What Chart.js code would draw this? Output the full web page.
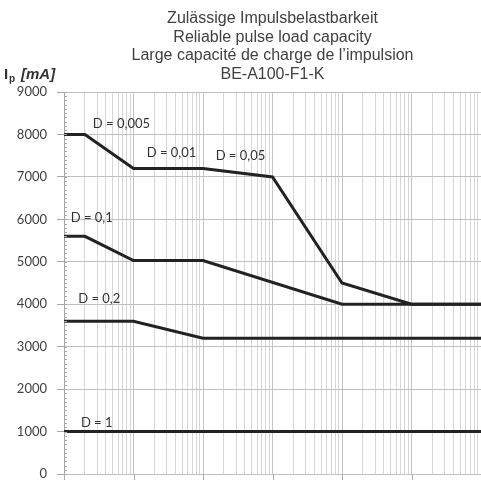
<!DOCTYPE html>
<html>
<head>
<meta charset="utf-8">
<script src="https://cdn.jsdelivr.net/npm/chart.js@4/dist/chart.umd.min.js"></script>
<style>
  html, body { margin: 0; padding: 0; background: #fff; }
</style>
</head>
<body>
<canvas id="chart" width="481" height="481"></canvas>
<script>
// pulse duration axis has no labels in the original, so x runs over 6 decades
const xPoints = [1, 2, 10, 100, 1000, 10000, 100000, 1000000];
const d0005 = [8000, 8000, 7200, 7200, 7000, 4500, 4000, 4000];
const d01 = [5600, 5600, 5030, 5030, null, 4000, 4000, 4000];
const d02 = [3600, 3600, 3600, 3200, 3200, 3200, 3200, 3200];
const d1 = [1000, 1000, 1000, 1000, 1000, 1000, 1000, 1000];
const yTicks = [0, 1000, 2000, 3000, 4000, 5000, 6000, 7000, 8000, 9000];
const titleLines = [
    "Zulässige Impulsbelastbarkeit",
    "Reliable pulse load capacity",
    "Large capacité de charge de l’impulsion",
    "BE-A100-F1-K",
];
const curveLabels = ["D = 0,005", "D = 0,01", "D = 0,05", "D = 0,1", "D = 0,2", "D = 1"];
const labelX = [2.6, 15.5, 152, 1.25, 1.6, 1.75];
const labelY = [8250, 7560, 7490, 6040, 4120, 1210];

const toPoints = (vals) => xPoints.map((x, i) => ({ x: x, y: vals[i] })).filter((p) => p.y !== null);

const lineStyle = {
    borderColor: "#222",
    borderWidth: 3,
    pointRadius: 0,
    tension: 0,
    fill: false,
};

const decorPlugin = {
    id: "decor",
    afterDraw: (chart) => {
        const ctx = chart.ctx;
        const area = chart.chartArea;
        const xs = chart.scales.x;
        const ys = chart.scales.y;
        ctx.save();

        // title
        ctx.fillStyle = "#404040";
        ctx.font = "16px 'Liberation Sans', Arial, sans-serif";
        ctx.textAlign = "center";
        ctx.textBaseline = "middle";
        const cx = (area.left + area.right) / 2;
        titleLines.forEach((line, i) => ctx.fillText(line, cx, 19 + i * 18.5));

        // y axis name  I_p [mA]
        ctx.fillStyle = "#333";
        ctx.textAlign = "left";
        ctx.textBaseline = "alphabetic";
        ctx.font = "bold 15px 'Liberation Sans', Arial, sans-serif";
        ctx.fillText("I", 4, 79);
        ctx.font = "bold 10px 'Liberation Sans', Arial, sans-serif";
        ctx.fillText("p", 9, 82);
        ctx.font = "bold italic 15px 'Liberation Sans', Arial, sans-serif";
        ctx.fillText("[mA]", 21, 79);

        // dense minor ticks on the y axis
        ctx.strokeStyle = "#aaa";
        ctx.lineWidth = 1;
        ctx.beginPath();
        for (let v = 0; v <= 9000; v += 100) {
            const py = Math.round(ys.getPixelForValue(v)) + 0.5;
            ctx.moveTo(area.left, py);
            ctx.lineTo(area.left + 3, py);
        }
        // decade tick marks below the x axis
        logTicks.filter(isDecade).forEach((v) => {
            const px = Math.round(xs.getPixelForValue(v)) + 0.5;
            ctx.moveTo(px, area.bottom);
            ctx.lineTo(px, area.bottom + 6);
        });
        ctx.stroke();

        // curve labels
        ctx.fillStyle = "#333";
        ctx.font = "13px Lato, 'Open Sans', sans-serif";
        ctx.textBaseline = "middle";
        curveLabels.forEach((t, i) => {
            ctx.fillText(t, xs.getPixelForValue(labelX[i]), ys.getPixelForValue(labelY[i]));
        });
        ctx.restore();
    },
};

const logTicks = [];
for (let k = 0; k < 6; k++) {
    for (let m = 1; m <= 9; m++) logTicks.push(m * Math.pow(10, k));
}
logTicks.push(1000000);

const isDecade = (v) => Math.abs(Math.log10(v) - Math.round(Math.log10(v))) < 1e-9;

new Chart(document.getElementById("chart"), {
    type: "line",
    data: {
        datasets: [
            { data: toPoints(d0005), ...lineStyle },
            { data: toPoints(d01), ...lineStyle },
            { data: toPoints(d02), ...lineStyle },
            { data: toPoints(d1), ...lineStyle },
        ],
    },
    options: {
        responsive: false,
        animation: false,
        devicePixelRatio: 1,
        layout: { padding: { top: 92, left: 0, right: 0, bottom: 7 } },
        plugins: {
            legend: { display: false },
            tooltip: { enabled: false },
        },
        scales: {
            x: {
                type: "logarithmic",
                min: 1,
                max: 1000000,
                afterBuildTicks: (scale) => {
                    scale.ticks = logTicks.map((v) => ({ value: v }));
                },
                afterFit: (scale) => {
                    scale.height = 0;
                    scale.paddingLeft = 0;
                    scale.paddingRight = 0;
                },
                ticks: { display: false },
                border: { display: false },
                grid: {
                    color: (c) => (c.tick && isDecade(c.tick.value) ? "#c4c4c4" : "#d6d6d6"),
                    drawTicks: false,
                    lineWidth: 1,
                },
            },
            y: {
                min: 0,
                max: 9000,
                afterBuildTicks: (scale) => {
                    scale.ticks = yTicks.map((v) => ({ value: v }));
                },
                afterFit: (scale) => {
                    scale.width = 64;
                    scale.paddingTop = 0;
                    scale.paddingBottom = 0;
                },
                ticks: {
                    color: "#404040",
                    font: { family: "Lato, 'Open Sans', sans-serif", size: 13, lineHeight: 1 },
                    padding: 10,
                    callback: (v) => String(v),
                },
                border: { color: "#a6a6a6" },
                grid: {
                    color: "#bfbfbf",
                    tickColor: "#a6a6a6",
                    tickLength: 7,
                },
            },
        },
    },
    plugins: [decorPlugin],
});
</script>
</body>
</html>
